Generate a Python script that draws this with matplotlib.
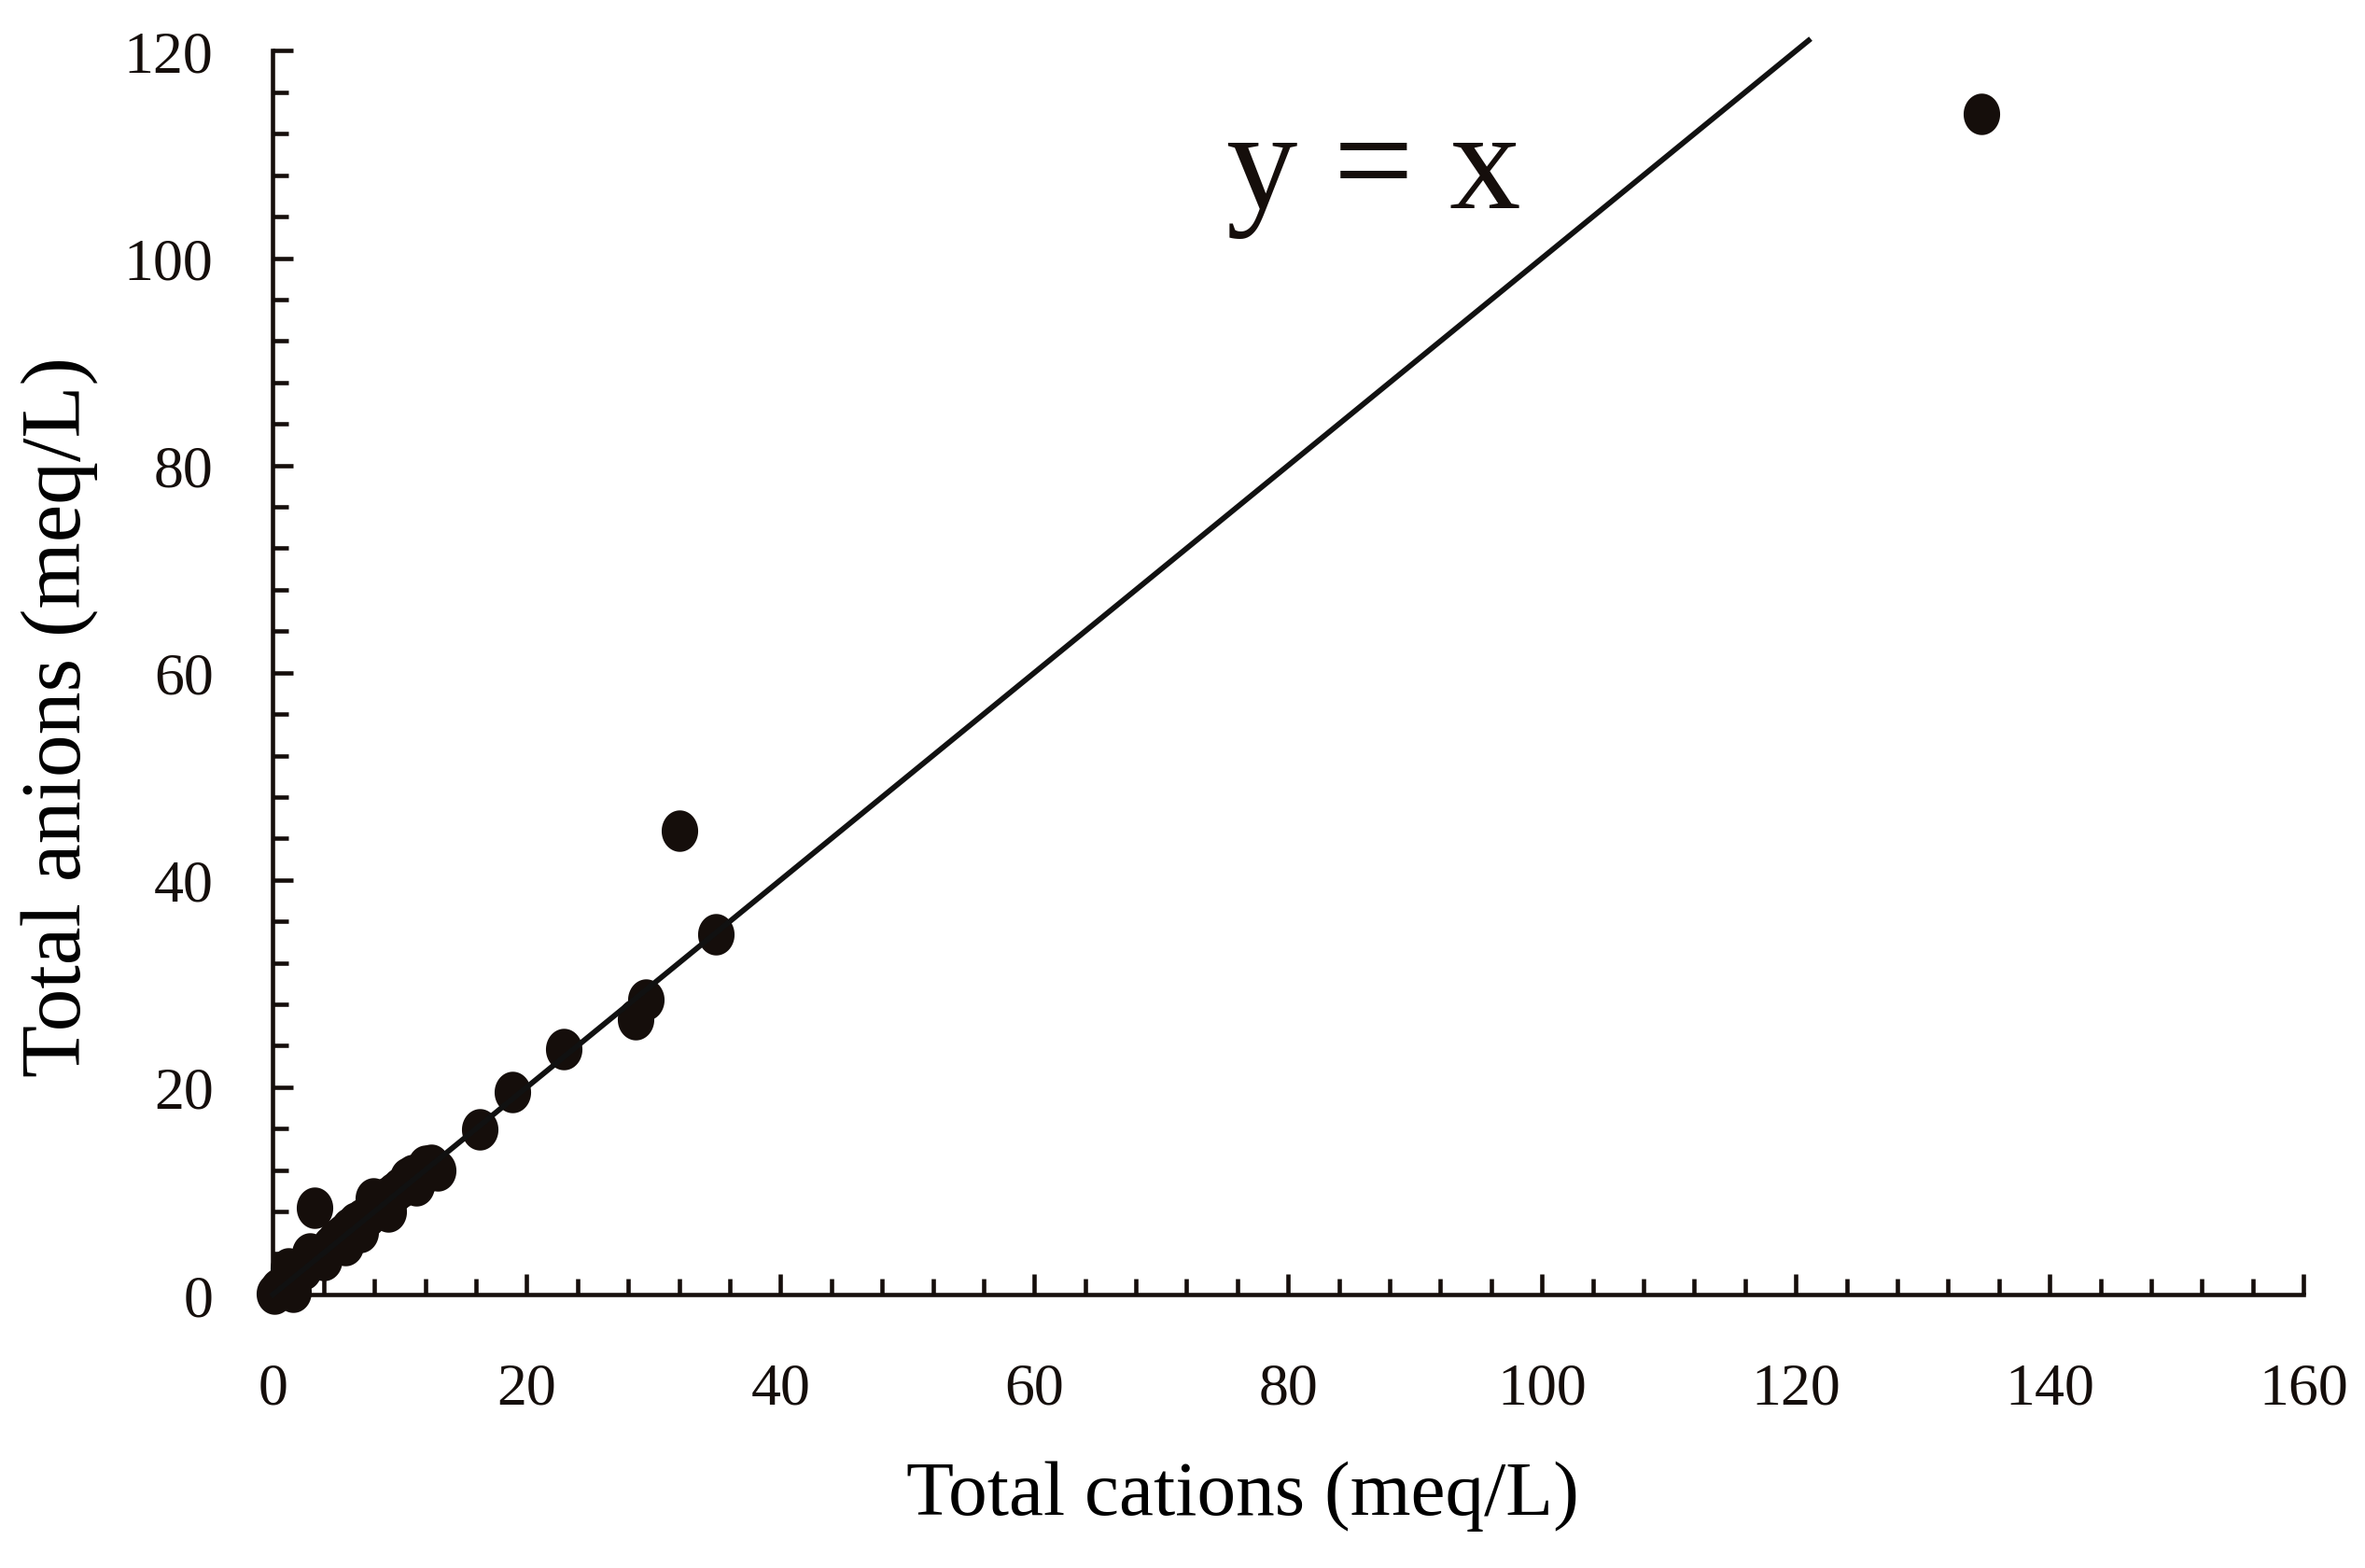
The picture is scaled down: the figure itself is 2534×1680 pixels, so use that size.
import matplotlib
matplotlib.use("Agg")
import matplotlib.pyplot as plt
import numpy as np
from matplotlib.path import Path
from matplotlib.ticker import MultipleLocator

# sample points (meq/L)
cations = [
    0.1, 0.4, 0.7, 1.0, 1.2, 1.5, 1.6, 2.0, 2.4, 2.9, 3.0, 3.25, 3.5, 4.0,
    4.5, 5.0, 5.5, 5.7, 6.0, 6.5, 6.9, 7.0, 7.5, 7.9, 8.0, 8.5, 9.0, 9.1,
    9.5, 10.0, 10.5, 10.6, 11.0, 11.3, 11.5, 12.0, 12.5, 12.8, 13.0,
    16.3, 18.9, 22.9, 28.6, 29.4, 32.0, 34.9, 134.6,
]
anions = [
    0.1, 0.5, 0.8, 1.0, 2.5, 1.6, 0.3, 2.2, 2.4, 4.0, 3.2, 8.4, 3.6, 3.3,
    4.7, 5.3, 5.8, 4.8, 6.4, 6.9, 6.0, 7.3, 7.6, 9.3, 8.3, 8.8, 9.4, 8.0,
    9.8, 10.3, 10.6, 11.3, 11.5, 10.5, 11.2, 12.4, 12.5, 12.2, 12.0,
    15.9, 19.5, 23.7, 26.6, 28.5, 44.8, 34.8, 113.9,
]
line_x = [0, 121]

ink = "#150e0b"
plt.rcParams.update({"font.family": "Liberation Serif", "text.color": ink})

# the source picture has slightly tall, oval markers
t = np.linspace(0, 2 * np.pi, 60)
oval = Path(np.column_stack([0.88 * np.cos(t), np.sin(t)]), closed=True)

fig = plt.figure(figsize=(25.34, 16.81), dpi=100)
ax = fig.add_axes([0.1154, 0.1743, 0.8586, 0.7927])

ax.plot(cations, anions, linestyle="none", marker=oval, markersize=32,
        color=ink, markeredgewidth=0, zorder=2, clip_on=False)
ax.plot(line_x, line_x, color="#111111", linewidth=4.2, zorder=3, clip_on=False)
ax.text(86.7, 108.2, "y = x", fontsize=110, ha="center", va="center")

ax.set_xlim(0, 160)
ax.set_ylim(0, 120)
ax.xaxis.set_major_locator(MultipleLocator(20))
ax.xaxis.set_minor_locator(MultipleLocator(4))
ax.yaxis.set_major_locator(MultipleLocator(20))
ax.yaxis.set_minor_locator(MultipleLocator(4))

ax.spines[["top", "right"]].set_visible(False)
for side in ("left", "bottom"):
    ax.spines[side].set_linewidth(3.3)
    ax.spines[side].set_color(ink)
ax.tick_params(which="both", direction="in", color=ink, width=3.3, labelsize=46, labelcolor=ink)
ax.tick_params(which="major", length=16)
ax.tick_params(which="minor", length=12)
ax.tick_params(axis="x", which="major", pad=52)
ax.tick_params(axis="y", which="major", pad=46)

ax.set_xlabel("Total cations (meq/L)", fontsize=60)
ax.set_ylabel("Total anions (meq/L)", fontsize=66)
ax.xaxis.set_label_coords(0.4777, -0.133)
ax.yaxis.set_label_coords(-0.086, 0.4655)

fig.savefig("out.png", dpi=100, facecolor="white")
